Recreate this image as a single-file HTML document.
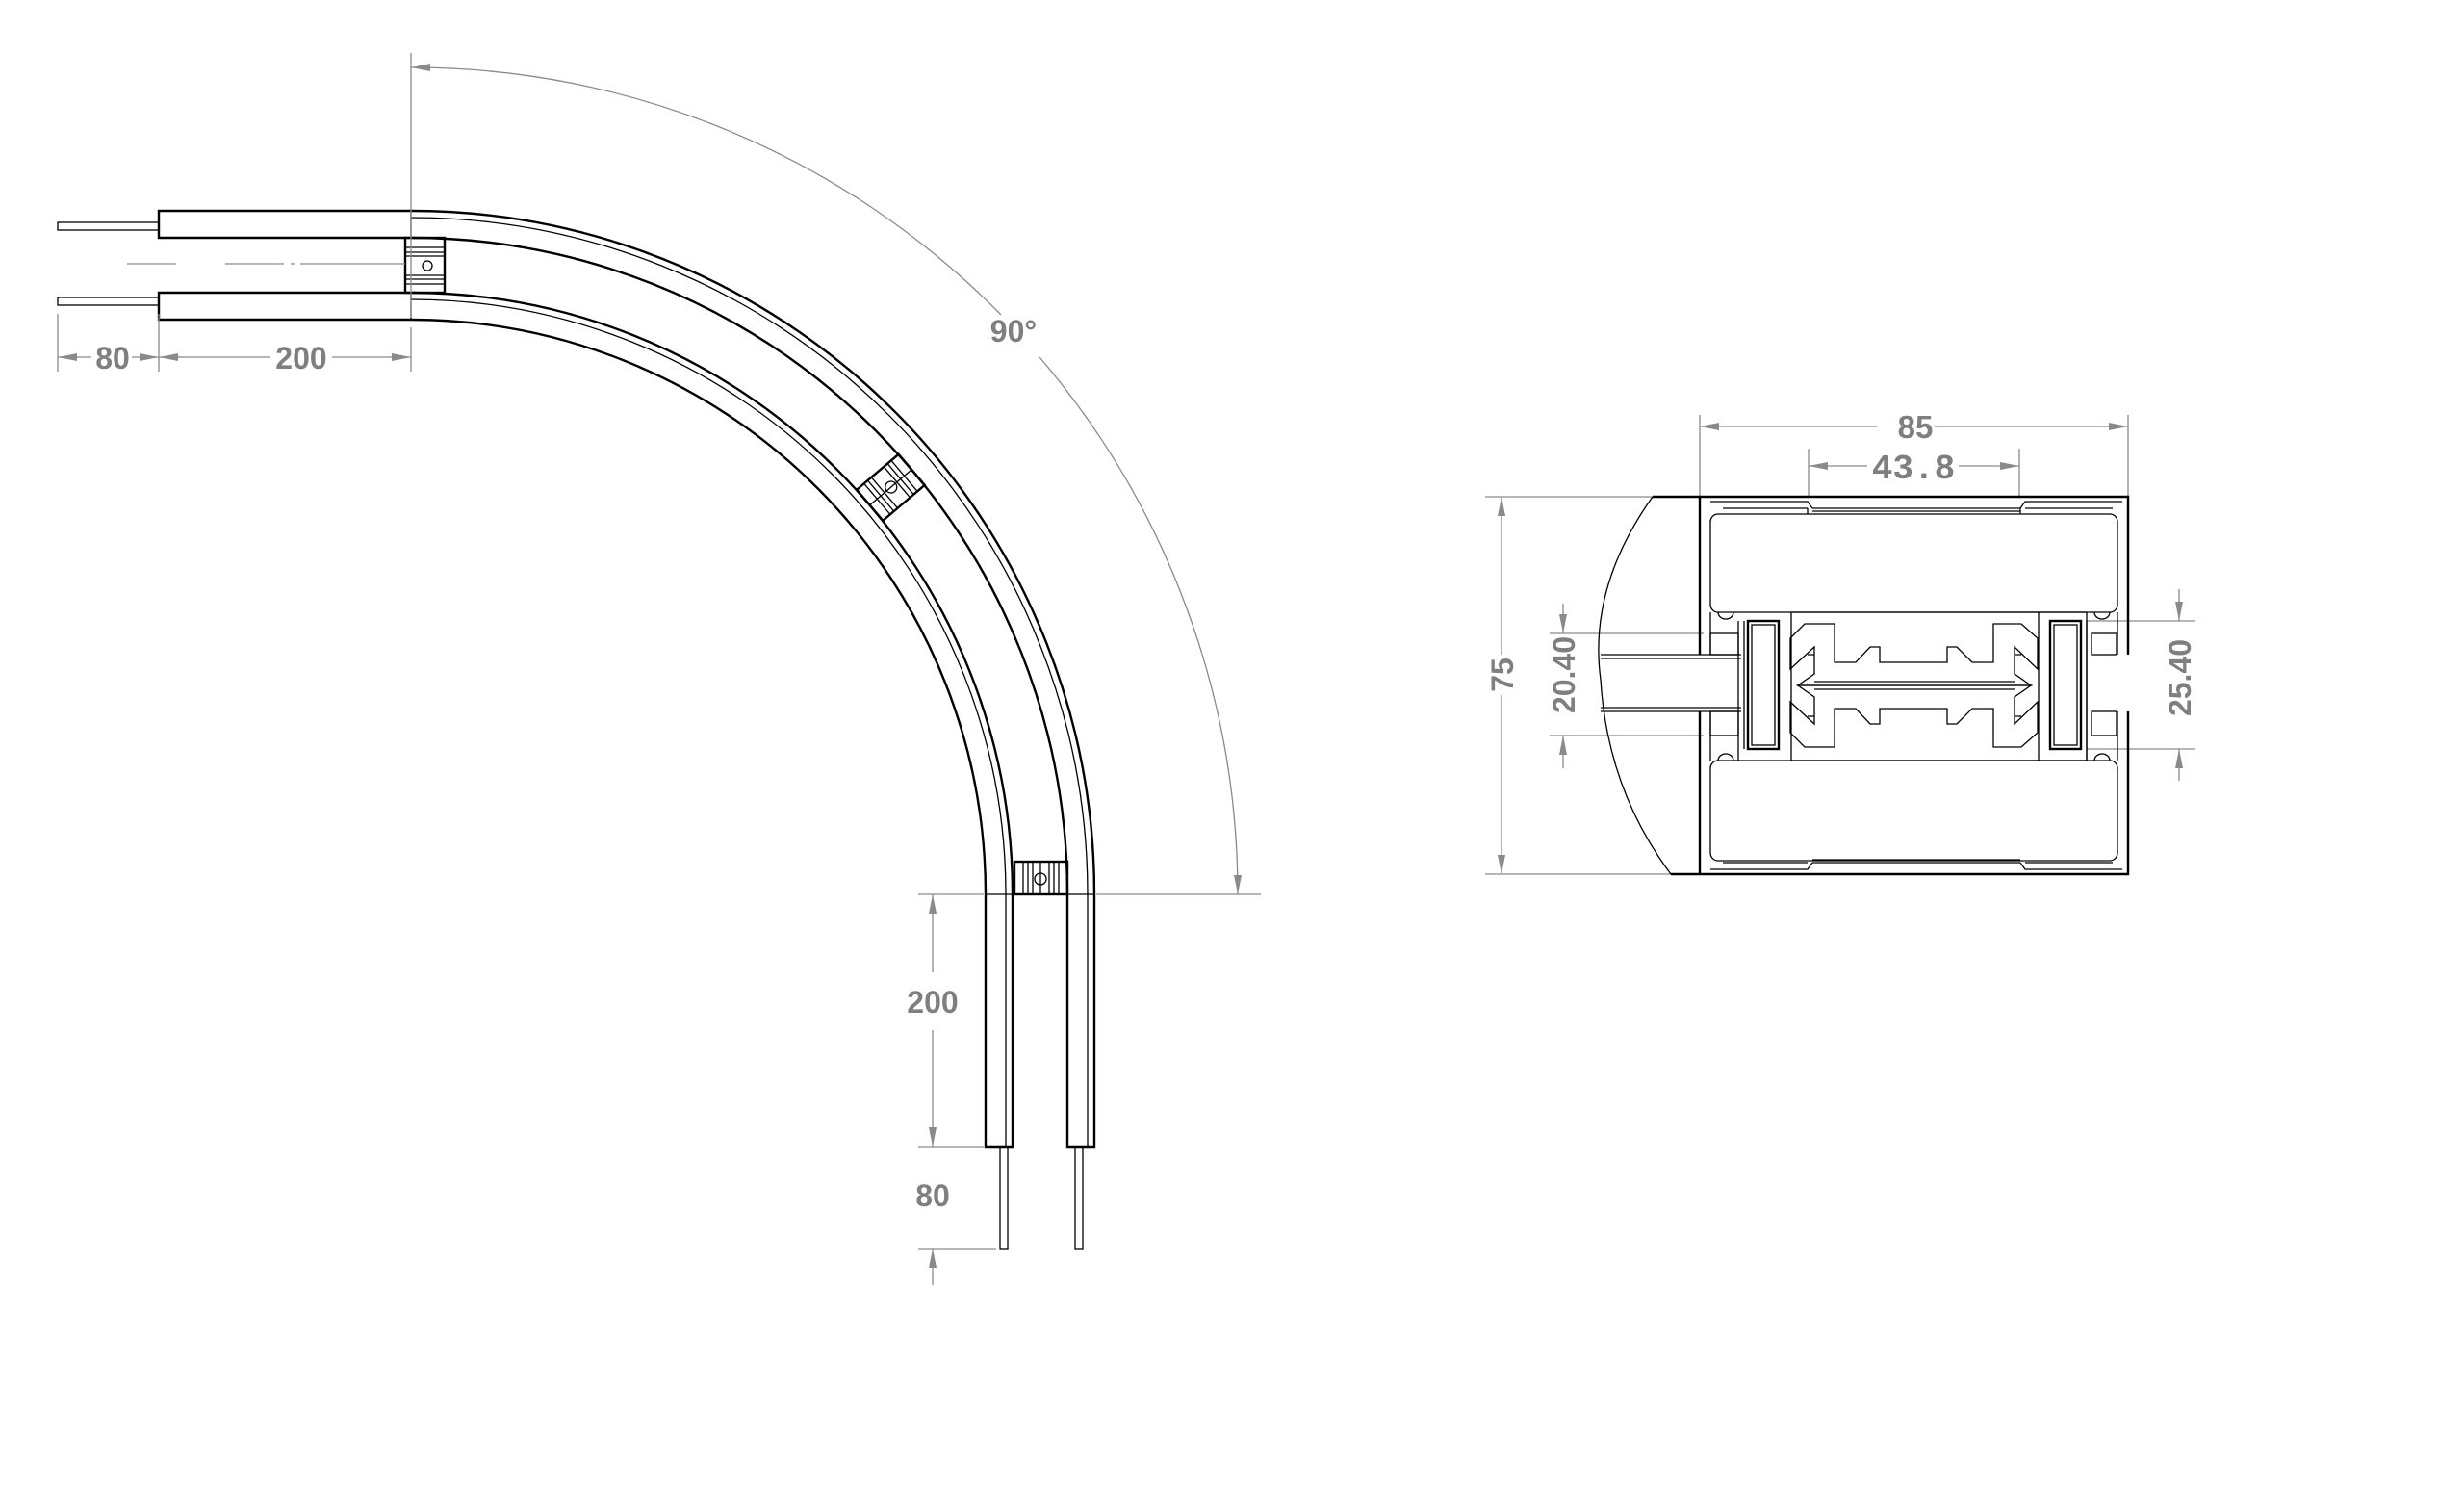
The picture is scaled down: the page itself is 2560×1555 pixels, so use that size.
<!DOCTYPE html>
<html><head><meta charset="utf-8"><style>
html,body{margin:0;padding:0;background:#fff;}
svg{display:block;}
.d{stroke:#8a8a8a;stroke-width:1.3;fill:none;}
.t{fill:#7f7f7f;font-family:"Liberation Sans",sans-serif;font-weight:bold;}
.k{stroke:#000;stroke-width:2.4;fill:none;}
.k1{stroke:#000;stroke-width:1.3;fill:none;}
</style></head><body>
<svg width="2560" height="1555" viewBox="0 0 2560 1555" xmlns="http://www.w3.org/2000/svg">
<defs>
<marker id="a" viewBox="0 0 20 10" refX="20" refY="5" markerWidth="20" markerHeight="10" markerUnits="userSpaceOnUse" orient="auto-start-reverse"><path d="M0,1 L20,5 L0,9 Z" fill="#8a8a8a"/></marker>
</defs>
<rect width="2560" height="1555" fill="#fff"/>

<!-- LEFT DRAWING -->
<rect x="60" y="231" width="105" height="8" class="k1"/>
<rect x="60" y="309" width="105" height="8" class="k1"/>
<rect x="1039" y="1191" width="8" height="106" class="k1"/>
<rect x="1117" y="1191" width="8" height="106" class="k1"/>
<path class="k" d="M165,219 H427 A710,710 0 0 1 1137,929 V1191 H1109 V929 A682,682 0 0 0 427,247 H165 Z"/>
<path class="k" d="M165,304 H427 A625,625 0 0 1 1052,929 V1191 H1024 V929 A597,597 0 0 0 427,332 H165 Z"/>
<path class="k1" d="M427,226 A703,703 0 0 1 1130,929 V1191"/>
<path class="k1" d="M427,311 A618,618 0 0 1 1045,929 V1191"/>
<line x1="427" y1="219" x2="427" y2="247" class="k1"/>
<line x1="427" y1="304" x2="427" y2="332" class="k1"/>
<line x1="1109" y1="929" x2="1137" y2="929" class="k1"/>
<line x1="1024" y1="929" x2="1052" y2="929" class="k1"/>
<g>
<rect x="421" y="247" width="41" height="57" fill="#fff" class="k"/>
<g class="k1"><line x1="421" y1="257" x2="462" y2="257"/><line x1="421" y1="262" x2="462" y2="262"/><line x1="421" y1="266" x2="462" y2="266"/><line x1="421" y1="286" x2="462" y2="286"/><line x1="421" y1="290" x2="462" y2="290"/><line x1="421" y1="295" x2="462" y2="295"/></g>
<circle cx="444" cy="276" r="5" fill="#fff" class="k1"/>
</g>
<g transform="translate(427,929) rotate(-40.3)">
<rect x="625" y="-21" width="57" height="42" fill="#fff" class="k"/>
<g class="k1"><line x1="635" y1="-21" x2="635" y2="21"/><line x1="640" y1="-21" x2="640" y2="21"/><line x1="645" y1="-21" x2="645" y2="21"/><line x1="662" y1="-21" x2="662" y2="21"/><line x1="667" y1="-21" x2="667" y2="21"/><line x1="672" y1="-21" x2="672" y2="21"/><line x1="625" y1="0" x2="682" y2="0"/></g>
<circle cx="654" cy="0" r="6" fill="#fff" class="k1"/>
</g>
<g>
<rect x="1054" y="895" width="55" height="34" fill="#fff" class="k"/>
<g class="k1"><line x1="1063" y1="895" x2="1063" y2="929"/><line x1="1068" y1="895" x2="1068" y2="929"/><line x1="1073" y1="895" x2="1073" y2="929"/><line x1="1081" y1="895" x2="1081" y2="929"/><line x1="1090" y1="895" x2="1090" y2="929"/><line x1="1095" y1="895" x2="1095" y2="929"/><line x1="1100" y1="895" x2="1100" y2="929"/></g>
<circle cx="1081" cy="913" r="6" fill="#fff" class="k1"/>
</g>
<path class="d" d="M132,274 H183 M234,274 H295 M302,274 H306 M312,274 H421"/>
<path class="d" d="M427,55 V330 M60,326 V386 M165,326 V386 M427,340 V386"/>
<line x1="60" y1="371" x2="95" y2="371" class="d" marker-start="url(#a)"/>
<line x1="137" y1="371" x2="165" y2="371" class="d" marker-end="url(#a)"/>
<line x1="165" y1="371" x2="280" y2="371" class="d" marker-start="url(#a)"/>
<line x1="345" y1="371" x2="427" y2="371" class="d" marker-end="url(#a)"/>
<text x="117" y="383" class="t" font-size="32" text-anchor="middle">80</text>
<text x="313" y="383" class="t" font-size="32" text-anchor="middle">200</text>
<path class="d" d="M1040,327 A859,859 0 0 0 427,70" marker-end="url(#a)"/>
<path class="d" d="M1080,371 A859,859 0 0 1 1286,929" marker-end="url(#a)"/>
<text x="1053" y="355" class="t" font-size="32" text-anchor="middle">90°</text>
<path class="d" d="M954,929 H1022 M1139,929 H1310"/>
<path class="d" d="M954,1191 H1022 M954,1297 H1035"/>
<line x1="969" y1="1010" x2="969" y2="929" class="d" marker-end="url(#a)"/>
<line x1="969" y1="1070" x2="969" y2="1191" class="d" marker-end="url(#a)"/>
<text x="969" y="1052" class="t" font-size="32" text-anchor="middle">200</text>
<text x="969" y="1253" class="t" font-size="32" text-anchor="middle">80</text>
<line x1="969" y1="1335" x2="969" y2="1297" class="d" marker-end="url(#a)"/>

<!-- RIGHT DRAWING -->
<path class="d" d="M1766,431 V516 M2211,431 V516 M1879,466 V516 M2098,466 V516"/>
<line x1="1950" y1="443" x2="1766" y2="443" class="d" marker-end="url(#a)"/>
<line x1="2010" y1="443" x2="2211" y2="443" class="d" marker-end="url(#a)"/>
<text x="1990" y="455" class="t" font-size="33" text-anchor="middle">85</text>
<line x1="1940" y1="484" x2="1879" y2="484" class="d" marker-end="url(#a)"/>
<line x1="2035" y1="484" x2="2098" y2="484" class="d" marker-end="url(#a)"/>
<text x="1988" y="497" class="t" font-size="36" text-anchor="middle" style="font-family:'Liberation Mono',monospace">43.8</text>
<path class="d" d="M1543,516 H1717 M1543,908 H1736"/>
<line x1="1560" y1="680" x2="1560" y2="516" class="d" marker-end="url(#a)"/>
<line x1="1560" y1="722" x2="1560" y2="908" class="d" marker-end="url(#a)"/>
<text transform="translate(1572,701) rotate(-90)" class="t" font-size="32" text-anchor="middle">75</text>
<path class="d" d="M1610,658 H1770 M1610,764 H1770"/>
<line x1="1624" y1="627" x2="1624" y2="658" class="d" marker-end="url(#a)"/>
<line x1="1624" y1="798" x2="1624" y2="764" class="d" marker-end="url(#a)"/>
<text transform="translate(1636,701) rotate(-90)" class="t" font-size="32" text-anchor="middle">20.40</text>
<path class="d" d="M2168,645 H2281 M2168,778 H2281"/>
<line x1="2264" y1="612" x2="2264" y2="645" class="d" marker-end="url(#a)"/>
<line x1="2264" y1="811" x2="2264" y2="778" class="d" marker-end="url(#a)"/>
<text transform="translate(2276,704) rotate(-90)" class="t" font-size="32" text-anchor="middle">25.40</text>

<path class="k1" d="M1717,516 Q1650,610 1663,706 Q1670,820 1736,908"/>
<path class="k" d="M1717,516 H2211 V680 M2211,739 V908 H1736"/>
<path class="k" d="M1766,516 V680 M1766,739 V908"/>
<path class="k1" d="M1663,680 H1809 M1663,684 H1809 M1663,739 H1809 M1663,735 H1809"/>
<path class="k1" d="M1777,521 H1878 L1883,528 M2099,528 L2104,521 H2205 M1790,528 H1878 M2104,528 H2195 M1878,528 V534 M2099,528 V534 M1883,528 H2099 M1883,531 H2099"/>
<path class="k1" d="M1777,903 H1878 L1883,896 M2099,896 L2104,903 H2205 M1790,896 H1878 M2104,896 H2195 M1883,896 H2099 M1883,893 H2099"/>
<rect x="1777" y="534" width="423" height="102" rx="8" class="k1"/>
<rect x="1777" y="790" width="423" height="104" rx="8" class="k1"/>
<path class="k1" d="M1777,636 V680 M2200,636 V680 M1777,739 V790 M2200,739 V790"/>
<path class="k1" d="M1861,636 V790 M2118,636 V790 M2168,636 V790 M1861,636 H2168 M1861,790 H2168"/>
<path class="k1" d="M1785,636 a8,7 0 0 0 16,0 M2176,636 a8,7 0 0 0 16,0 M1785,790 a8,7 0 0 1 16,0 M2176,790 a8,7 0 0 1 16,0"/>
<rect x="1777" y="658" width="29" height="22" class="k1"/>
<rect x="1777" y="739" width="29" height="25" class="k1"/>
<rect x="2173" y="658" width="26" height="22" class="k1"/>
<rect x="2173" y="739" width="26" height="25" class="k1"/>
<path class="k1" d="M1806,645 V790 M1812,645 V778 M2162,645 V778 M2168,645 V790"/>
<rect x="1816" y="645" width="32" height="133" class="k"/>
<rect x="1820" y="649" width="24" height="125" class="k1"/>
<rect x="2130" y="645" width="32" height="133" class="k"/>
<rect x="2134" y="649" width="24" height="125" class="k1"/>
<g class="k1">
<path d="M1860,663 L1875,648 H1906 V688 H1928 L1943,672 H1953 V688 H2023 V672 H2033 L2049,688 H2071 V648 H2100 L2117,663 V695 L2093,672 V700 L2110,712 H1868 L1885,700 V672 L1860,695 Z"/>
<path transform="translate(0,1424) scale(1,-1)" d="M1860,663 L1875,648 H1906 V688 H1928 L1943,672 H1953 V688 H2023 V672 H2033 L2049,688 H2071 V648 H2100 L2117,663 V695 L2093,672 V700 L2110,712 H1868 L1885,700 V672 L1860,695 Z"/>
<path d="M1885,708 H2093 M1885,716 H2093 M1878,680 H1885 M2093,680 H2100 M1878,744 H1885 M2093,744 H2100"/>
</g>
</svg>
</body></html>
